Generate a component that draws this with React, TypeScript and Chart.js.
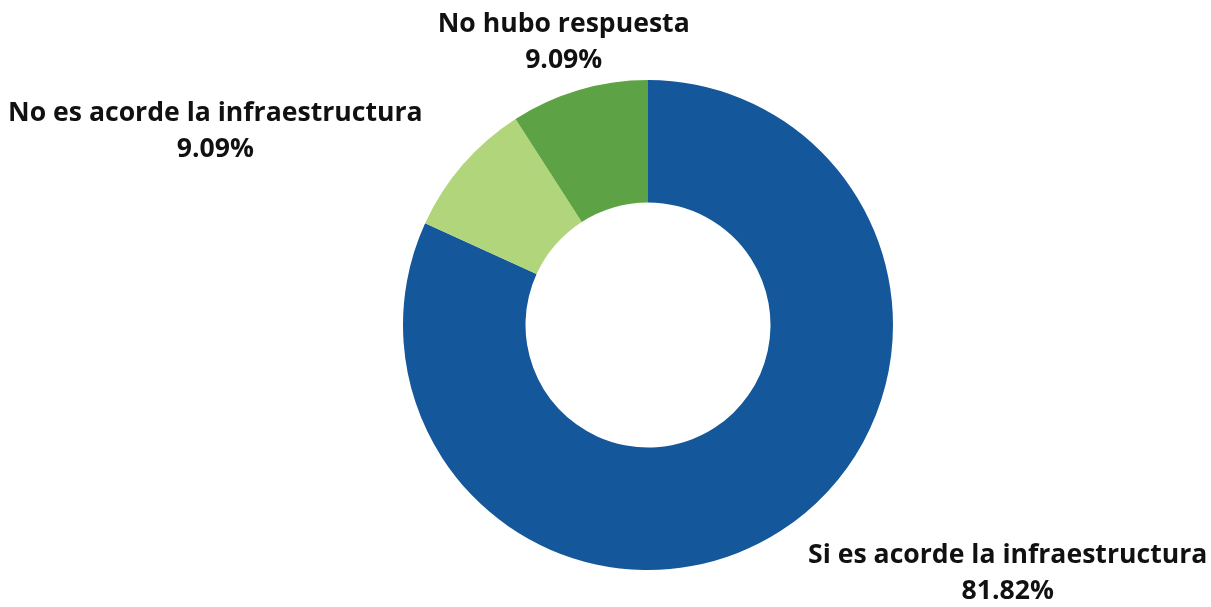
import React, { useEffect, useRef } from "react";
import { Chart, registerables } from "chart.js";

Chart.register(...registerables);

const categories = [
  "Si es acorde la infraestructura",
  "No es acorde la infraestructura",
  "No hubo respuesta",
];
const counts = [9, 1, 1];
const colors = ["#14579A", "#B0D57A", "#5DA345"];

const labelPlugin = {
  id: "outerLabels",
  afterDatasetsDraw(chart: any) {
    const ctx = chart.ctx;
    const meta = chart.getDatasetMeta(0);
    const data = chart.data.datasets[0].data as number[];
    const total = data.reduce((a, b) => a + b, 0);
    ctx.save();
    ctx.font = "bold 26.6px 'Open Sans'";
    ctx.fillStyle = "#111111";
    ctx.textBaseline = "middle";
    meta.data.forEach((arc: any, i: number) => {
      const p = arc.getProps(["x", "y", "startAngle", "endAngle", "outerRadius"], true);
      const mid = (p.startAngle + p.endAngle) / 2;
      const c = Math.cos(mid);
      const s = Math.sin(mid);
      const r = p.outerRadius + 40;
      const align = c > 0.3 ? "left" : c < -0.3 ? "right" : "center";
      const gap = align === "left" ? 6 : align === "right" ? -10 : -4;
      const ax = p.x + c * r + gap;
      const ay = p.y + s * r + s * 10;
      const pct = ((data[i] / total) * 100).toFixed(2) + "%";
      const lbl = chart.data.labels[i];
      const w = ctx.measureText(lbl).width;
      const cx = align === "left" ? ax + w / 2 : align === "right" ? ax - w / 2 : ax;
      ctx.textAlign = "center";
      ctx.fillText(lbl, cx, ay - 18);
      ctx.fillText(pct, cx, ay + 18);
    });
    ctx.restore();
  },
};

export default function App() {
  const ref = useRef<HTMLCanvasElement>(null);
  useEffect(() => {
    document.body.style.margin = "0";
    const chart = new Chart(ref.current!, {
      type: "doughnut",
      data: {
        labels: categories,
        datasets: [
          {
            data: counts,
            backgroundColor: colors,
            borderWidth: 0,
          },
        ],
      },
      options: {
        animation: false,
        responsive: false,
        cutout: "50%",
        layout: { padding: { top: 80, bottom: 37, left: 403, right: 318 } },
        plugins: {
          legend: { display: false },
          tooltip: { enabled: false },
        },
      },
      plugins: [labelPlugin],
    });
    return () => chart.destroy();
  }, []);
  return (
    <div style={{ width: 1211, height: 607, background: "#fff" }}>
      <canvas ref={ref} width={1211} height={607} style={{ display: "block" }} />
    </div>
  );
}
